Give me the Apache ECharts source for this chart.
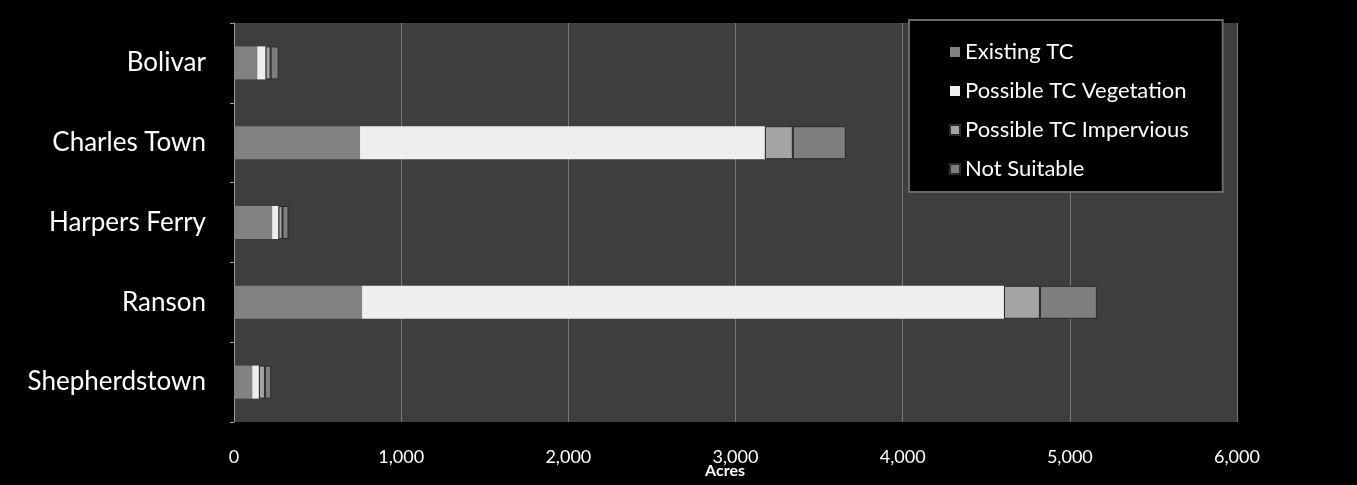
<!DOCTYPE html>
<html>
<head>
<meta charset="utf-8">
<script src="https://cdn.jsdelivr.net/npm/echarts@6/dist/echarts.min.js"></script>
<style>
html,body{margin:0;padding:0;background:#000;}
#c{position:absolute;left:0;top:0;width:1357px;height:485px;}
</style>
</head>
<body>
<div id="c"></div>
<script>
const categories = ['Bolivar', 'Charles Town', 'Harpers Ferry', 'Ranson', 'Shepherdstown'];
const seriesNames = ['Existing TC', 'Possible TC Vegetation', 'Possible TC Impervious', 'Not Suitable'];
const existingTC = [139, 754, 228, 766, 109];
const possibleVegetation = [50, 2422, 38, 3840, 40];
const possibleImpervious = [30, 167, 24, 215, 36];
const notSuitable = [48, 317, 36, 341, 38];
const xTicks = [0, 1000, 2000, 3000, 4000, 5000, 6000];

const chart = echarts.init(document.getElementById('c'), null, {renderer: 'canvas'});
const font = 'Lato, "Open Sans", sans-serif';
const colors = ['#828282', '#eeeeee', '#a4a4a4', '#7e7e7e'];
const valuesList = [existingTC, possibleVegetation, possibleImpervious, notSuitable];

chart.setOption({
  backgroundColor: '#000',
  animation: false,
  textStyle: {fontFamily: font},
  grid: {left: 234, right: 120, top: 23, bottom: 63, show: true, backgroundColor: '#3e3e3e', borderWidth: 0},
  legend: {
    orient: 'vertical',
    left: 909, top: 20,
    backgroundColor: '#000',
    borderColor: '#6a6a6a', borderWidth: 2,
    padding: [21, 34, 12, 40],
    itemGap: 17,
    itemWidth: 10, itemHeight: 10,
    icon: 'rect',
    data: seriesNames,
    textStyle: {color: '#ffffff', fontSize: 22, fontFamily: font, lineHeight: 22}
  },
  xAxis: {
    type: 'value',
    min: xTicks[0], max: xTicks[xTicks.length - 1], interval: 1000,
    axisLine: {show: false},
    axisTick: {show: false},
    splitLine: {show: true, lineStyle: {color: '#767676', width: 1}},
    axisLabel: {color: '#ffffff', fontSize: 18, margin: 26, fontFamily: font,
      formatter: v => v.toLocaleString('en-US')}
  },
  yAxis: {
    type: 'category',
    data: categories,
    inverse: true,
    axisLine: {show: true, lineStyle: {color: '#9a9a9a', width: 1}},
    axisTick: {show: true, length: 4, lineStyle: {color: '#9a9a9a'}},
    axisLabel: {color: '#ffffff', fontSize: 26, margin: 28, fontFamily: font}
  },
  graphic: [
    {type: 'text', x: 725, y: 471, style: {text: 'Acres', fill: '#ffffff', font: 'bold 16px ' + font, align: 'center', verticalAlign: 'middle'}}
  ],
  series: seriesNames.map((name, i) => ({
    name: name,
    type: 'bar',
    stack: 'total',
    barWidth: 33,
    data: valuesList[i],
    itemStyle: {color: colors[i], borderColor: i >= 2 ? '#2a2a2a' : 'transparent', borderWidth: i >= 2 ? 1 : 0}
  }))
});
</script>
</body>
</html>
